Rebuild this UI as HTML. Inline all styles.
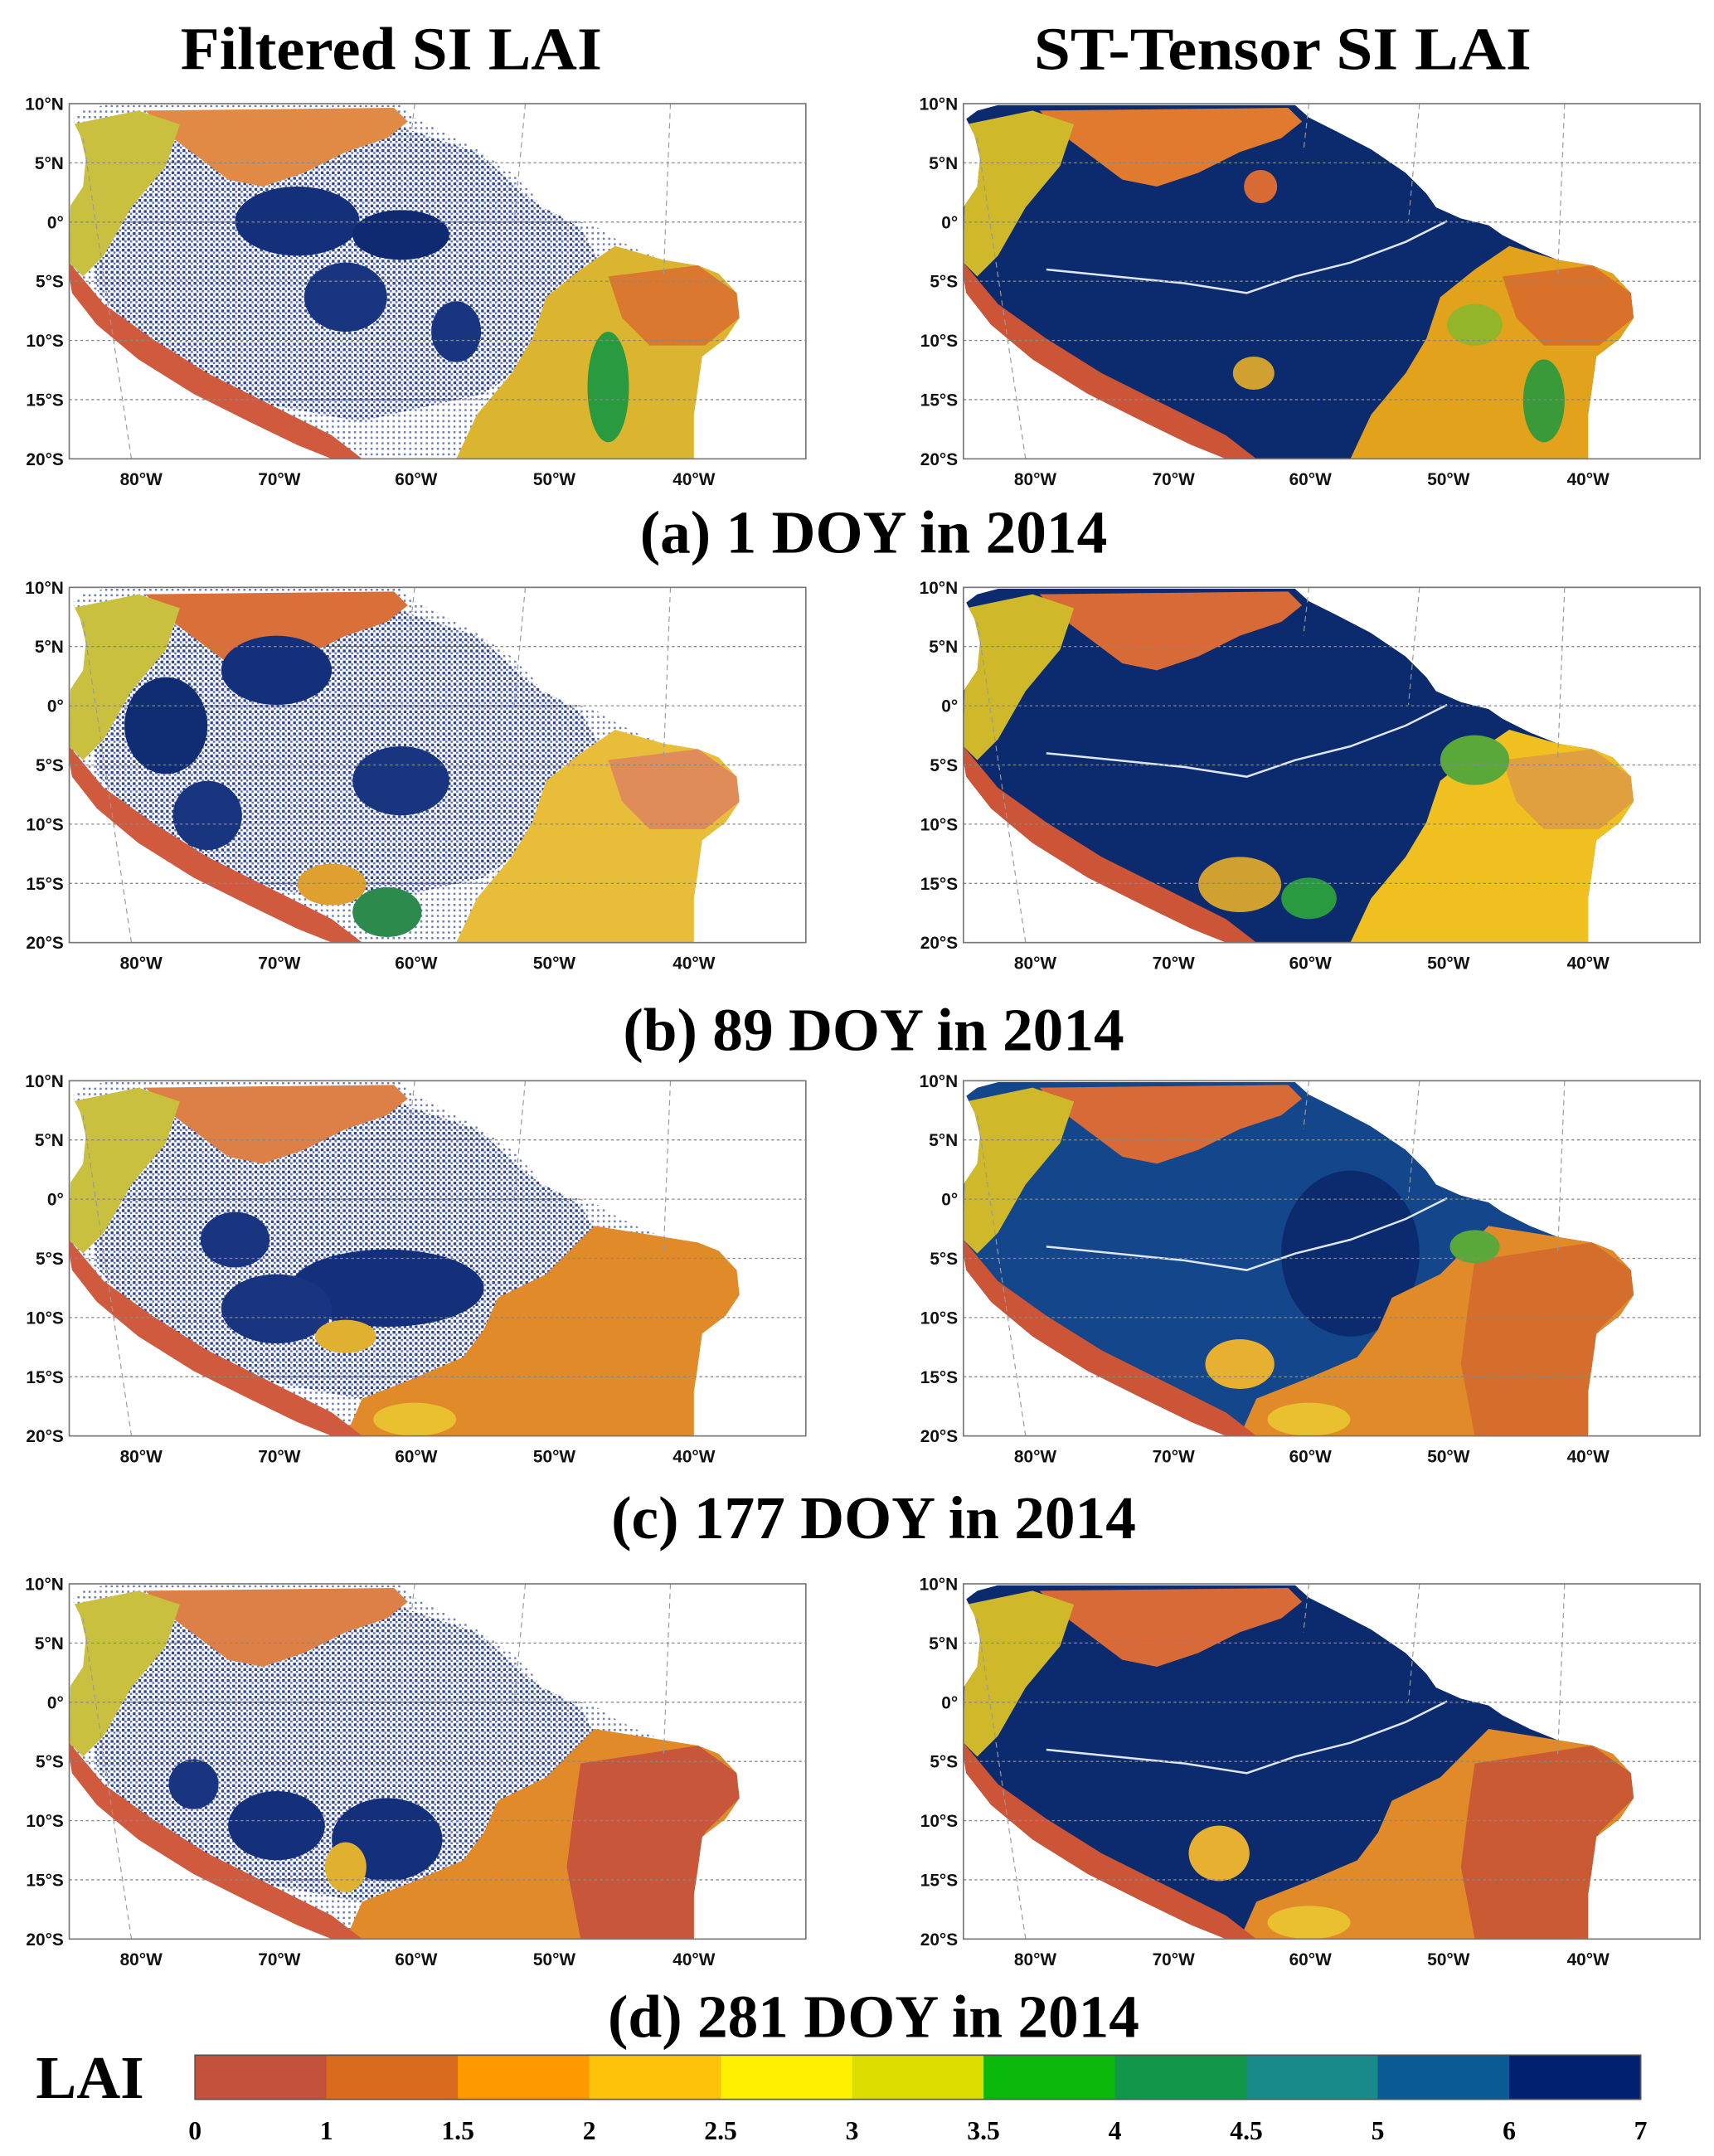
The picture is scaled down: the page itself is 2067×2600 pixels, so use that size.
<!DOCTYPE html>
<html><head><meta charset="utf-8">
<style>
html,body{margin:0;padding:0;background:#fff;}
svg{display:block;}
text{font-family:"Liberation Serif",serif;}
.tk{font-family:"Liberation Sans",sans-serif;font-weight:bold;font-size:12.5px;fill:#111;}
</style></head>
<body>
<svg id="fig" width="2067" height="2600" viewBox="0 0 1240 1560" xmlns="http://www.w3.org/2000/svg">
<defs>
<pattern id="speck" width="4" height="4" patternUnits="userSpaceOnUse">
<rect width="4" height="4" fill="#ffffff"/>
<rect x="0" y="0" width="2" height="2" fill="#2e4490"/>
<rect x="2" y="2" width="1.5" height="1.5" fill="#5d6fb0"/>
</pattern>
<pattern id="speckl" width="4" height="4" patternUnits="userSpaceOnUse">
<rect width="4" height="4" fill="#ffffff"/>
<rect x="0" y="0" width="1.5" height="1.5" fill="#6a7cb8"/>
</pattern>
</defs>
<text x="283" y="50" text-anchor="middle" font-size="44" font-weight="bold" textLength="305" lengthAdjust="spacingAndGlyphs">Filtered SI LAI</text>
<text x="928" y="50" text-anchor="middle" font-size="44" font-weight="bold" textLength="360" lengthAdjust="spacingAndGlyphs">ST-Tensor SI LAI</text>
<g id="panels"></g>
<g id="cbar"></g>
</svg>
<script>
// Colorbar data
const cbColors = ["#c4513b","#d96b1f","#fe9a00","#ffc20a","#fff000","#dcde00","#0ab90a","#12964a","#188a8a","#0a5a96","#00216f"];
const cbTicks = ["0","1","1.5","2","2.5","3","3.5","4","4.5","5","6","7"];
const latTicks = ["10°N","5°N","0°","5°S","10°S","15°S","20°S"];
const lonTicks = ["80°W","70°W","60°W","50°W","40°W"];
const lonTickX = [52,152,251,351,452]; // offsets from panel left (label centres)
const captions = ["(a) 1 DOY in 2014","(b) 89 DOY in 2014","(c) 177 DOY in 2014","(d) 281 DOY in 2014"];
const rowY = [75,425,782,1146];
const capY = [400,760,1113,1474];
const colX = [50,697];

const NS="http://www.w3.org/2000/svg";
const panels=document.getElementById('panels');
function mk(tag,attrs,parent){const e=document.createElementNS(NS,tag);for(const k in attrs)e.setAttribute(k,attrs[k]);(parent||panels).appendChild(e);return e;}

const LAND=[[52,86],[60,80],[75,76],[290,76],[300,85],[320,95],[345,108],[370,125],[385,140],[392,150],[410,158],[430,163],[440,170],[460,180],[480,188],[505,192],[520,198],[533,212],[535,230],[525,245],[508,258],[505,280],[502,300],[502,332],[240,332],[215,322],[180,305],[140,285],[100,260],[70,235],[52,212],[50,200],[50,150],[60,135],[62,115],[58,98]];
const RED=[[50,190],[75,220],[110,245],[150,270],[200,295],[240,315],[262,332],[240,332],[200,318],[150,295],[100,265],[65,238],[50,215]];
const NORTH=[[105,80],[285,78],[295,88],[280,100],[250,110],[220,125],[190,135],[165,130],[145,115],[125,100]];
const ANDES=[[52,90],[100,80],[130,90],[120,120],[95,150],[75,185],[60,200],[50,190]];
const EASTA=[[395,215],[420,195],[445,178],[480,188],[505,192],[520,198],[533,212],[535,230],[525,245],[508,258],[505,280],[502,332],[330,332],[345,300],[370,270],[385,245]];
const NEA=[[440,200],[505,192],[533,212],[535,230],[510,250],[470,250],[450,230]];
const EASTC=[[360,232],[395,215],[430,180],[480,188],[505,192],[520,198],[533,212],[535,230],[525,245],[508,258],[505,280],[502,332],[250,332],[262,305],[300,290],[335,275],[350,255]];
const NEC=[[420,205],[505,192],[533,212],[535,230],[510,255],[505,300],[502,332],[420,332],[410,280],[415,240]];
const INTER=[[65,150],[75,120],[130,100],[200,110],[290,92],[345,110],[385,145],[420,165],[440,200],[400,250],[350,285],[260,305],[180,290],[110,255],[70,210]];
const RIVER=[[110,195],[160,200],[210,205],[255,212],[290,200],[330,190],[370,175],[400,160]];

const panelSpecs=[
 [[["url(#speckl)",LAND],["url(#speck)",INTER],["#dcb530",EASTA],["#d9782e",NEA],["#cf5a3e",RED],["#e08a45",NORTH],["#c9c040",ANDES],
   ["#14307a","e",215,160,45,25],["#0f2a70","e",290,170,35,18],["#1a3580","e",250,215,30,25],["#1a3580","e",330,240,18,22],["#2a9a40","e",440,280,15,40]],
  [["#0c2b6f",LAND],["#e2a21c",EASTA],["#d9712a",NEA],["#cc5538",RED],["#df7a2e",NORTH],["#cfb92a",ANDES],["#d86a35","e",265,135,12,12],["#93b52a","e",420,235,20,15],["#3a9a3a","e",470,290,15,30],["#d0a030","e",260,270,15,12]]],
 [[["url(#speckl)",LAND],["url(#speck)",INTER],["#e8bd3a",EASTA],["#e08b5a",NEA],["#cf5a3e",RED],["#d9703a",NORTH],["#c9c040",ANDES],
   ["#102c73","e",120,175,30,35],["#14307a","e",200,135,40,25],["#1a3580","e",150,240,25,25],["#1a3580","e",290,215,35,25],["#2c8a4c","e",280,310,25,18],["#dfa030","e",240,290,25,15]],
  [["#0c2b6f",LAND],["#f0c020",EASTA],["#e0a040",NEA],["#cc5538",RED],["#d86a38",NORTH],["#cfb92a",ANDES],["#5aa83a","e",420,200,25,18],["#d0a030","e",250,290,30,20],["#2a9a40","e",300,300,20,15]]],
 [[["url(#speckl)",LAND],["url(#speck)",INTER],["#e08a2a",EASTC],["#cf5a3e",RED],["#dc8048",NORTH],["#c9c040",ANDES],
   ["#14307a","e",280,225,70,28],["#1a3580","e",200,240,40,25],["#1a3580","e",170,190,25,20],["#e0b030","e",250,260,22,12],["#e8c030","e",300,320,30,12]],
  [["#13468a",LAND],["#0c2b6f","e",330,200,50,60],["#e08a2a",EASTC],["#d56d2c",NEC],["#cc5538",RED],["#d86a38",NORTH],["#cfb92a",ANDES],["#e8b030","e",250,280,25,18],["#5aa83a","e",420,195,18,12],["#e8c030","e",300,320,30,12]]],
 [[["url(#speckl)",LAND],["url(#speck)",INTER],["#e08a2a",EASTC],["#c8563a",NEC],["#cf5a3e",RED],["#dc8048",NORTH],["#c9c040",ANDES],
   ["#14307a","e",200,250,35,25],["#14307a","e",280,260,40,30],["#1a3580","e",140,220,18,18],["#e0b030","e",250,280,15,18]],
  [["#0c2b6f",LAND],["#e08a2a",EASTC],["#c95a34",NEC],["#cc5538",RED],["#d86a38",NORTH],["#cfb92a",ANDES],["#e8b030","e",235,270,22,20],["#e8c030","e",300,320,30,12]]]
];

for(let r=0;r<4;r++){
 for(let c=0;c<2;c++){
  const dx=colX[c]-50, dy=rowY[r]-75;
  const g=mk('g',{transform:`translate(${dx},${dy})`});
  
  
  const clipId=`clip${r}${c}`;
  const cp=mk('clipPath',{id:clipId},g);
  mk('polygon',{points:LAND.map(p=>p.join(',')).join(' ')},cp);
  mk('rect',{x:50,y:75,width:533,height:257,fill:'#fff'},g);
  const lg=mk('g',{'clip-path':`url(#${clipId})`},g);
  for(const s of panelSpecs[r][c]){
   if(s[1]==='e') mk('ellipse',{cx:s[2],cy:s[3],rx:s[4],ry:s[5],fill:s[0]},lg);
   else mk('polygon',{points:s[1].map(p=>p.join(',')).join(' '),fill:s[0]},lg);
  }
  if(c===1) mk('polyline',{points:RIVER.map(p=>p.join(',')).join(' '),fill:'none',stroke:'#dfe6ee','stroke-width':1.5},lg);
  for(let i=1;i<6;i++){const y=75+i*257/6;mk('line',{x1:50,x2:583,y1:y,y2:y,stroke:'#888','stroke-width':0.8,'stroke-dasharray':'2,2'},g);}
  const mer=[[95,332,60,100],[300,75,296,110],[380,75,372,160],[485,75,480,200]];
  for(const m of mer) mk('line',{x1:m[0],y1:m[1],x2:m[2],y2:m[3],stroke:'#999','stroke-width':0.7,'stroke-dasharray':'4,3'},g);
  mk('rect',{x:50,y:75,width:533,height:257,fill:'none',stroke:'#777','stroke-width':1},g);
  latTicks.forEach((t,i)=>{const e=mk('text',{x:46,y:75+i*257/6+4.5,'text-anchor':'end',class:'tk'},g);e.textContent=t;
    
    });
  lonTicks.forEach((t,i)=>{const e=mk('text',{x:50+lonTickX[i],y:351,'text-anchor':'middle',class:'tk'},g);e.textContent=t;
    
    });
 }
 const cap=mk('text',{x:632,y:capY[r],'text-anchor':'middle','font-size':44,'font-weight':'bold'});
 cap.textContent=captions[r];
 
 
}

const cb=document.getElementById('cbar');
const cbx0=141,cbx1=1187,cby=1487,cbh=32;
const segW=(cbx1-cbx0)/cbColors.length;
cbColors.forEach((col,i)=>{const r=mk('rect',{x:cbx0+i*segW,y:cby,width:segW+0.5,height:cbh,fill:col},cb);
 
 });
mk('rect',{x:cbx0,y:cby,width:cbx1-cbx0,height:cbh,fill:'none',stroke:'#555','stroke-width':1},cb);
cbTicks.forEach((t,i)=>{const e=mk('text',{x:cbx0+i*segW,y:1548,'text-anchor':'middle','font-family':'Liberation Sans, sans-serif','font-weight':'bold','font-size':19},cb);e.textContent=t;
 
 });
const lai=mk('text',{x:65,y:1518,'text-anchor':'middle','font-size':44,'font-weight':'bold'},cb);
lai.textContent='LAI';


</script>
</body></html>
